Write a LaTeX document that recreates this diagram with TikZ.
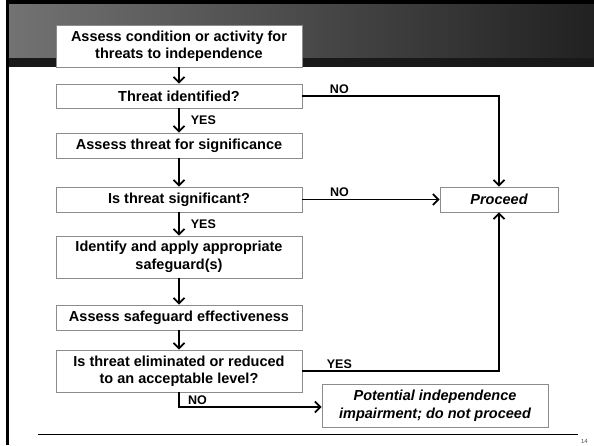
\documentclass[tikz,border=0pt]{standalone}
\usepackage{fontspec}
\setmainfont{Liberation Sans}
\usetikzlibrary{arrows.meta, calc}

\begin{document}
\begin{tikzpicture}[x=1pt, y=-1pt, >={Straight Barb[length=5.5pt,width=11pt]},
  box/.style={draw=black!45, fill=white, line width=0.8pt, minimum width=246pt,
    align=center, inner sep=0pt, font=\bfseries\fontsize{14.5}{17.5}\selectfont},
  lbl/.style={font=\bfseries\fontsize{12.5}{14}\selectfont, inner sep=2pt},
  flow/.style={line width=1.7pt}]
  \useasboundingbox (0,0) rectangle (594,445);
  % slide frame
  \shade[left color=black!55, right color=black!87] (6,4) rectangle (594,58);
  \fill[black!90] (6,58) rectangle (594,67);
  \fill[black] (6,0) rectangle (594,4);
  \fill[black] (6,0) rectangle (9,445);
  \draw[line width=1pt] (38,434) -- (578,434);
  \node[font=\fontsize{6}{7}\selectfont, text=black!70, anchor=east, inner sep=0pt] (pgno) at (588,441) {14};

  \node[box, minimum height=42pt] (assess) at (179,46) {Assess condition or activity for\\threats to independence};
  \node[box, minimum height=24pt] (identified) at (179,96) {Threat identified?};
  \node[box, minimum height=25pt] (signif) at (179,145.5) {Assess threat for significance};
  \node[box, minimum height=25pt] (issignif) at (179,199.5) {Is threat significant?};
  \node[box, minimum height=42pt] (safeguard) at (179,257) {Identify and apply appropriate\\safeguard(s)};
  \node[box, minimum height=25pt] (effect) at (179,317.5) {Assess safeguard effectiveness};
  \node[box, minimum height=42pt] (reduced) at (179,371) {Is threat eliminated or reduced\\to an acceptable level?};
  \node[box, minimum width=118pt, minimum height=25pt, font=\bfseries\itshape\fontsize{14.5}{17.5}\selectfont] (proceed) at (499,199.5) {Proceed};
  \node[box, minimum width=226pt, minimum height=43pt, font=\bfseries\itshape\fontsize{14.5}{17.5}\selectfont] (impair) at (435,405.5) {Potential independence\\impairment; do not proceed};

  \draw[flow, ->] (assess) -- (identified);
  \draw[flow, ->] (identified) -- node[lbl, right=9pt] (yes1) {YES} (signif);
  \draw[flow, ->] (signif) -- (issignif);
  \draw[flow, ->] (issignif) -- node[lbl, right=9pt] (yes2) {YES} (safeguard);
  \draw[flow, ->] (safeguard) -- (effect);
  \draw[flow, ->] (effect) -- (reduced);

  \draw[flow, ->] (identified.east) -| node[lbl, above, pos=0.094] (no1) {NO} (proceed.north);
  \draw[flow, ->] (issignif.east) -- node[lbl, above, pos=0.27] (no2) {NO} (proceed.west);
  \draw[flow, ->] (reduced.east) -| node[lbl, above, pos=0.094] (yes3) {YES} (proceed.south);
  \coordinate (turn) at (reduced.south |- 0,407);
  \draw[flow, ->] (reduced.south) -- (turn) -- node[lbl, above, pos=0.13] (no3) {NO} (turn -| impair.west);
\end{tikzpicture}
\end{document}
